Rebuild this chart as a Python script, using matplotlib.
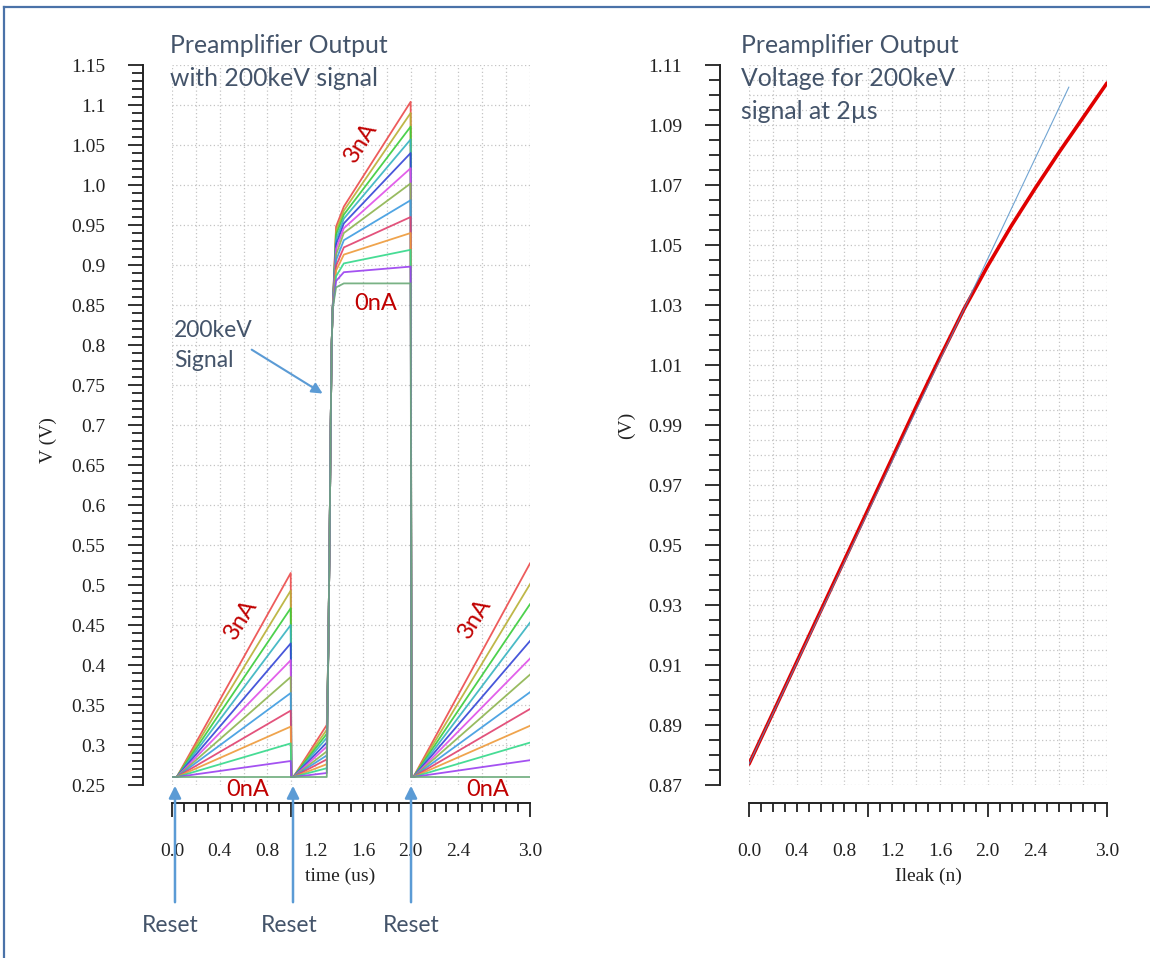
import numpy as np
import matplotlib
matplotlib.use("Agg")
import matplotlib.pyplot as plt
from matplotlib.lines import Line2D

# leakage current sweep (nA) and the colour each trace had in the simulator
ileak_na = [0.0, 0.25, 0.5, 0.75, 1.0, 1.25, 1.5, 1.75, 2.0, 2.25, 2.5, 2.75, 3.0]
trace_colors = ['#6aaa78', '#9a3ff0', '#33d98a', '#ee9a3a', '#e0406e', '#3d9be0',
                '#8db44f', '#df4fe8', '#3345d6', '#36b3c0', '#3acc3a', '#b8b035', '#ec4a4a']

# time events (us)
t_ramp1 = [0.0, 0.04, 0.995]
t_reset1 = [1.0, 1.017]
t_ramp2_end = 1.297
t_rise = [1.310, 1.320, 1.330, 1.338, 1.346]
v_rise = [0.42, 0.55, 0.70, 0.80, 0.845]
t_wall = 1.375
t_knee = 1.44
t_sample = 2.0
t_reset2 = [2.007, 2.023]
t_end = 3.0

v_base = 0.26
v_ramp1_end = [0.260, 0.280, 0.302, 0.323, 0.343, 0.365, 0.385, 0.406, 0.427, 0.450, 0.471, 0.493, 0.515]
v_ramp2_end = [0.260, 0.265, 0.271, 0.276, 0.282, 0.287, 0.292, 0.298, 0.303, 0.309, 0.314, 0.319, 0.325]
v_wall = [0.872, 0.880, 0.886, 0.893, 0.899, 0.906, 0.913, 0.920, 0.926, 0.932, 0.938, 0.943, 0.948]
v_knee = [0.877, 0.891, 0.902, 0.913, 0.922, 0.931, 0.940, 0.946, 0.952, 0.958, 0.963, 0.968, 0.973]
v_at_2us = [0.877, 0.898, 0.919, 0.940, 0.960, 0.981, 1.002, 1.021, 1.040, 1.057, 1.073, 1.090, 1.104]
v_ramp3_end = [0.260, 0.281, 0.303, 0.324, 0.345, 0.366, 0.388, 0.408, 0.430, 0.453, 0.476, 0.501, 0.527]

# right plot: finer leakage sweep of the output at 2us
sweep_i = [0.0, 0.2, 0.4, 0.6, 0.8, 1.0, 1.2, 1.4, 1.6, 1.8, 2.0, 2.2, 2.4, 2.6, 2.8, 3.0]
sweep_v = [0.877, 0.894, 0.911, 0.928, 0.945, 0.962, 0.979, 0.996, 1.0125, 1.0285,
           1.0430, 1.0565, 1.0690, 1.0810, 1.0925, 1.1040]
# linear reference
fit_i = [0.0, 2.68]
fit_v = [0.877, 1.1026]

left_yticks = [0.25, 0.3, 0.35, 0.4, 0.45, 0.5, 0.55, 0.6, 0.65, 0.7, 0.75, 0.8, 0.85, 0.9, 0.95, 1.0, 1.05, 1.1, 1.15]
left_ylabels = ['0.25', '0.3', '0.35', '0.4', '0.45', '0.5', '0.55', '0.6', '0.65', '0.7', '0.75', '0.8',
                '0.85', '0.9', '0.95', '1.0', '1.05', '1.1', '1.15']
right_yticks = [0.87, 0.89, 0.91, 0.93, 0.95, 0.97, 0.99, 1.01, 1.03, 1.05, 1.07, 1.09, 1.11]
right_ylabels = ['0.87', '0.89', '0.91', '0.93', '0.95', '0.97', '0.99', '1.01', '1.03', '1.05', '1.07', '1.09', '1.11']
xtick_vals = [0.0, 0.4, 0.8, 1.2, 1.6, 2.0, 2.4, 3.0]
xtick_text = ['0.0', '0.4', '0.8', '1.2', '1.6', '2.0', '2.4', '3.0']

W, H = 1150, 958
TXT = '#44546a'
RED_TXT = '#c00000'
ARROW = '#5b9bd5'
GRID = '#c4c4c4'
INK = '#222222'
SANS = 'Lato'
SERIF = 'Liberation Serif'

fig = plt.figure(figsize=(W / 100, H / 100), dpi=100)
ax1 = fig.add_axes([172 / W, 173 / H, 358 / W, 720 / H])
ax2 = fig.add_axes([749 / W, 173 / H, 358 / W, 720 / H])


def style_axes(ax, ymin, ymax, yticks, ylabels, yminor, hgrid):
    ax.set_xlim(0, 3.0)
    ax.set_ylim(ymin, ymax)
    for s in ['top', 'right']:
        ax.spines[s].set_visible(False)
    ax.spines['left'].set_position(('outward', 21))
    ax.spines['bottom'].set_position(('outward', 13))
    ax.spines['left'].set_bounds(ymin, ymax)
    ax.spines['bottom'].set_bounds(0, 3.0)
    for s in ['left', 'bottom']:
        ax.spines[s].set_linewidth(1.4)
        ax.spines[s].set_color(INK)
    # grid
    for gx in np.arange(0, 3.001, 0.2):
        ax.axvline(gx, color=GRID, lw=0.9, ls=(0, (1, 2)), zorder=0)
    for gy in hgrid:
        ax.axhline(gy, color=GRID, lw=0.9, ls=(0, (1, 2)), zorder=0)
    # y ticks
    ax.set_yticks(yticks, ylabels)
    ax.set_yticks(yminor, minor=True)
    ax.tick_params(axis='y', which='major', length=11, width=1.3, pad=16,
                   labelsize=14, colors=INK)
    ax.tick_params(axis='y', which='minor', length=8, width=1.3, colors=INK)
    # x ticks every 0.1, labelled only at a few of them
    pos = np.round(np.arange(0, 3.001, 0.1), 1)
    labs = []
    for p in pos:
        lab = ''
        for v, t in zip(xtick_vals, xtick_text):
            if abs(p - v) < 1e-6:
                lab = t
        labs.append(lab)
    ax.set_xticks(pos, labs)
    ax.tick_params(axis='x', which='major', length=6.5, width=1.3, pad=22,
                   labelsize=14, colors=INK)
    for lab in ax.get_xticklabels() + ax.get_yticklabels():
        lab.set_family(SERIF)
    # whole-number ticks are longer
    for i, tk in enumerate(ax.xaxis.get_major_ticks()):
        if i % 10 == 0:
            tk.tick1line.set_markersize(10)


style_axes(ax1, 0.25, 1.15, left_yticks, left_ylabels,
           np.arange(0.25, 1.1501, 0.01), left_yticks)
style_axes(ax2, 0.87, 1.11, right_yticks, right_ylabels,
           np.arange(0.87, 1.1101, 0.005), np.arange(0.87, 1.1101, 0.005))

# left: transient traces
for k in range(len(ileak_na) - 1, -1, -1):
    ts = (t_ramp1 + [t_reset1[0], t_reset1[1], t_ramp2_end] + t_rise +
          [t_wall, t_knee, t_sample, t_reset2[0], t_reset2[1], t_end])
    vs = ([v_base, v_base, v_ramp1_end[k], v_base, v_base, v_ramp2_end[k]] + v_rise +
          [v_wall[k], v_knee[k], v_at_2us[k], v_base, v_base, v_ramp3_end[k]])
    ax1.plot(ts, vs, color=trace_colors[k], lw=1.3, alpha=0.9, zorder=3)

# right: voltage at 2us vs leakage
ax2.plot(sweep_i, sweep_v, color='#e00000', lw=2.6, zorder=3, solid_capstyle='round')
ax2.plot(fit_i, fit_v, color='#4f8fc8', lw=0.8, alpha=0.8, zorder=4)

# axis labels
fig.text(340 / W, 1 - 876 / H, 'time (us)', family=SERIF, fontsize=14, color=INK,
         ha='center', va='center')
fig.text(928 / W, 1 - 876 / H, 'Ileak (n)', family=SERIF, fontsize=14, color=INK,
         ha='center', va='center')
fig.text(48 / W, 1 - 440 / H, 'V (V)', family=SERIF, fontsize=14, color=INK,
         ha='center', va='center', rotation=90)
fig.text(626 / W, 1 - 425 / H, '(V)', family=SERIF, fontsize=14, color=INK,
         ha='center', va='center', rotation=90)

# titles
left_title = ['Preamplifier Output', 'with 200keV signal']
right_title = ['Preamplifier Output', 'Voltage for 200keV', 'signal at 2\u00b5s']
for i, line in enumerate(left_title):
    fig.text(170 / W, 1 - (53 + 33 * i) / H, line, family=SANS, fontsize=17.8, color=TXT,
             ha='left', va='baseline')
for i, line in enumerate(right_title):
    fig.text(741 / W, 1 - (53 + 33 * i) / H, line, family=SANS, fontsize=17.8, color=TXT,
             ha='left', va='baseline')

# current labels
for (x, y) in [(361, 142), (241, 619), (475, 618)]:
    fig.text(x / W, 1 - y / H, '3nA', family=SANS, fontsize=17, color=RED_TXT,
             ha='center', va='center', rotation=58)
for (x, y) in [(376, 304), (248, 789), (488, 789)]:
    fig.text(x / W, 1 - y / H, '0nA', family=SANS, fontsize=17, color=RED_TXT,
             ha='center', va='center')

# signal annotation
fig.text(174 / W, 1 - 337 / H, '200keV', family=SANS, fontsize=16.5, color=TXT,
         ha='left', va='baseline')
fig.text(174 / W, 1 - 367 / H, 'Signal', family=SANS, fontsize=16.5, color=TXT,
         ha='left', va='baseline')
ax1.annotate('', xy=(1.282, 0.7375), xytext=(0.648, 0.796), annotation_clip=False,
             arrowprops=dict(arrowstyle='-|>', color=ARROW, lw=1.5, mutation_scale=16))

# reset arrows
reset_t = [0.025, 1.014, 2.003]
reset_text_x = [170, 289, 411]
for t, xt in zip(reset_t, reset_text_x):
    ax1.annotate('', xy=(t, 0.2525), xytext=(t, 0.10), annotation_clip=False,
                 arrowprops=dict(arrowstyle='-|>', color=ARROW, lw=1.8, mutation_scale=18))
    fig.text(xt / W, 1 - 925 / H, 'Reset', family=SANS, fontsize=16.5, color=TXT,
             ha='center', va='center')

# slide frame
fig.add_artist(Line2D([4 / W, 4 / W], [0, 1 - 7 / H], transform=fig.transFigure,
                      color='#4a72a8', lw=1.6))
fig.add_artist(Line2D([4 / W, 1], [1 - 7 / H, 1 - 7 / H], transform=fig.transFigure,
                      color='#4a72a8', lw=1.6))

fig.savefig('out.png', dpi=100)
